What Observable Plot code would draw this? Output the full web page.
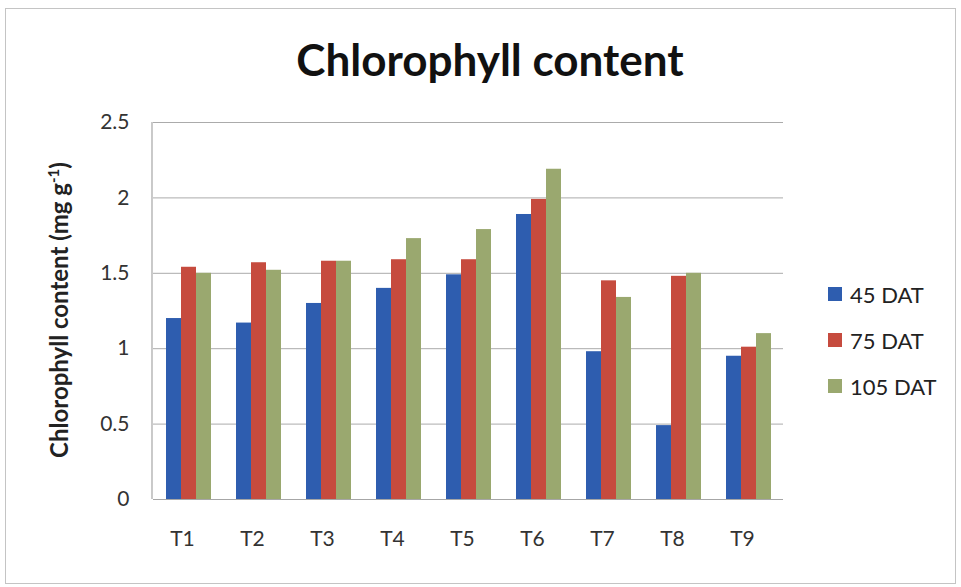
<!DOCTYPE html>
<html>
<head>
<meta charset="utf-8">
<script src="https://cdn.jsdelivr.net/npm/d3@7"></script>
<script src="https://cdn.jsdelivr.net/npm/@observablehq/plot@0.6"></script>
<style>
  body { margin: 0; background: #fff; font-family: Lato, "Open Sans", sans-serif; }
  #wrap { position: relative; width: 961px; height: 587px; overflow: hidden; background: #fff; }
  #border { position: absolute; left: 5px; top: 8px; width: 951px; height: 576px; border: 1.5px solid #c4c4c4; box-sizing: border-box; }
  #chart { position: absolute; left: 0; top: 0; }
  #title { position: absolute; left: 0; width: 980px; top: 37px; text-align: center; font-weight: bold; font-size: 44px; color: #111; line-height: 1; }
  #ylabel { position: absolute; left: 58px; top: 310px; transform: translate(-50%, -50%) rotate(-90deg); white-space: nowrap; font-weight: bold; font-size: 24px; color: #222; }
  #ylabel sup { font-size: 15px; }
  .leg { position: absolute; left: 828px; height: 24px; display: flex; align-items: center; font-size: 22px; color: #222; white-space: nowrap; }
  .leg span.sw { display: inline-block; width: 14px; height: 14px; margin-right: 8px; }
</style>
</head>
<body>
<div id="wrap">
  <div id="border"></div>
  <div id="chart"></div>
  <div id="title">Chlorophyll content</div>
  <div id="ylabel">Chlorophyll content (mg g<sup>-1</sup>)</div>
  <div id="legend"></div>
</div>
<script>
const treatments = ["T1", "T2", "T3", "T4", "T5", "T6", "T7", "T8", "T9"];
const series = ["45 DAT", "75 DAT", "105 DAT"];
const dat45  = [1.20, 1.17, 1.30, 1.40, 1.49, 1.89, 0.98, 0.49, 0.95];
const dat75  = [1.54, 1.57, 1.58, 1.59, 1.59, 1.99, 1.45, 1.48, 1.01];
const dat105 = [1.50, 1.52, 1.58, 1.73, 1.79, 2.19, 1.34, 1.50, 1.10];
const yTicks = [0, 0.5, 1, 1.5, 2, 2.5];
const colors = ["#2e5daf", "#c64b3e", "#9aa86f"];

const seriesValues = [dat45, dat75, dat105];
const data = [];
treatments.forEach((t, i) => {
  series.forEach((s, j) => data.push({t, s, v: seriesValues[j][i]}));
});

const marginLeft = 152, marginRight = 177, marginTop = 122, marginBottom = 88;

const chart = Plot.plot({
  width: 961,
  height: 587,
  marginLeft, marginRight, marginTop, marginBottom,
  style: { fontFamily: "Lato, 'Open Sans', sans-serif", fontSize: "21px", color: "#333", background: "transparent" },
  fx: { domain: treatments, padding: 0, label: null, axis: null },
  x: { domain: series, paddingInner: 0, paddingOuter: 0.8, axis: null },
  y: { domain: [0, 2.5], label: null },
  color: { domain: series, range: colors },
  marks: [
    Plot.gridY(yTicks, { stroke: "#ababab", strokeOpacity: 1, strokeWidth: 1 }),
    Plot.axisY(yTicks, { tickSize: 0, tickPadding: 24, tickFormat: d => String(d), label: null, fill: "#333" }),
    Plot.axisFx({ anchor: "bottom", tickSize: 0, tickPadding: 32, label: null, dx: -6, fill: "#333" }),
    Plot.barY(data, { fx: "t", x: "s", y: "v", fill: "s" }),
    Plot.ruleY([0], { stroke: "#a6a6a6", strokeWidth: 1.2 })
  ]
});
document.getElementById("chart").appendChild(chart);

// left axis line of the plot area
const yScale = chart.scale("y");
d3.select(chart).append("line")
  .attr("x1", marginLeft).attr("x2", marginLeft)
  .attr("y1", yScale.apply(2.5)).attr("y2", yScale.apply(0))
  .attr("stroke", "#a6a6a6").attr("stroke-width", 1.2);

// legend
const legendTops = [282, 328, 374];
const legend = document.getElementById("legend");
series.forEach((s, i) => {
  const row = document.createElement("div");
  row.className = "leg";
  row.style.top = legendTops[i] + "px";
  row.innerHTML = `<span class="sw" style="background:${colors[i]}"></span>${s}`;
  legend.appendChild(row);
});
</script>
</body>
</html>
